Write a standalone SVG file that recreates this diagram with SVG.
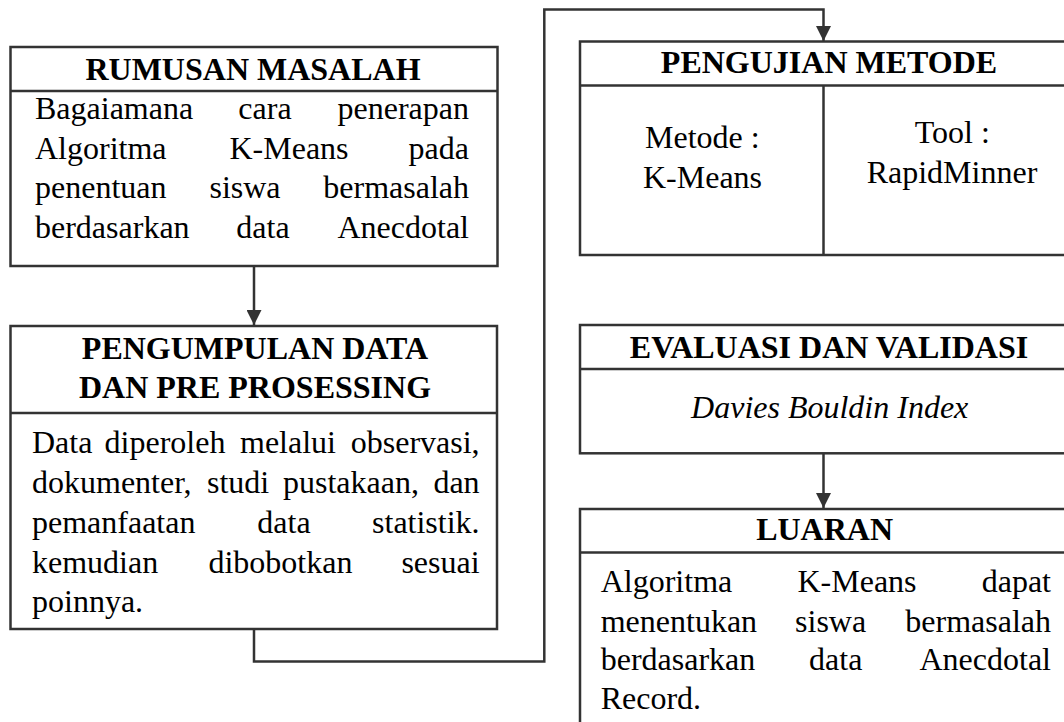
<svg xmlns="http://www.w3.org/2000/svg" width="1064" height="722" viewBox="0 0 1064 722">
<defs>
<style>
.box{fill:#fff;stroke:#333;stroke-width:2.5}
.ln{fill:none;stroke:#333;stroke-width:2.5}
.h{font-family:"Liberation Serif","Times New Roman",serif;font-weight:bold;font-size:32px;fill:#000;text-anchor:middle}
.t{font-family:"Liberation Serif","Times New Roman",serif;font-size:32px;fill:#000}
.m{text-anchor:middle}
.e{text-anchor:end}
.i{font-style:italic}
</style>
<marker id="arr" viewBox="0 0 15 15" refX="15" refY="7.5" markerWidth="15" markerHeight="15" markerUnits="userSpaceOnUse" orient="auto">
<path d="M0,0 L15,7.5 L0,15 z" fill="#333"/>
</marker>
</defs>
<rect width="1064" height="722" fill="#fff"/>

<g id="connectors">
<path class="ln" d="M254,266 L254,325" marker-end="url(#arr)"/>
<path class="ln" d="M254,629 L254,661.5 L544.3,661.5 L544.3,9.5 L823.5,9.5 L823.5,41" marker-end="url(#arr)"/>
<path class="ln" d="M823.5,453.3 L823.5,508" marker-end="url(#arr)"/>
</g>

<g id="rumusan">
<rect class="box" x="10.5" y="47" width="487" height="219"/>
<line class="ln" x1="10.5" y1="91" x2="497.5" y2="91"/>
<text class="h" x="253" y="80">RUMUSAN MASALAH</text>
<text class="t" x="35" y="119.3">Bagaiamana</text>
<text class="t m" x="265" y="119.3">cara</text>
<text class="t e" x="469" y="119.3">penerapan</text>
<text class="t" x="35" y="158.5">Algoritma</text>
<text class="t m" x="289" y="158.5">K-Means</text>
<text class="t e" x="469" y="158.5">pada</text>
<text class="t" x="35" y="198">penentuan</text>
<text class="t m" x="245" y="198">siswa</text>
<text class="t e" x="469" y="198">bermasalah</text>
<text class="t" x="35" y="238">berdasarkan</text>
<text class="t m" x="263" y="238">data</text>
<text class="t e" x="469" y="238">Anecdotal</text>
</g>

<g id="pengumpulan">
<rect class="box" x="10.5" y="326" width="486.5" height="303"/>
<line class="ln" x1="10.5" y1="413" x2="497" y2="413"/>
<text class="h" x="255" y="359.3">PENGUMPULAN DATA</text>
<text class="h" x="255" y="398.3">DAN PRE PROSESSING</text>
<text class="t" x="32" y="452.7">Data</text>
<text class="t" x="104.6" y="452.7">diperoleh</text>
<text class="t" x="240" y="452.7">melalui</text>
<text class="t e" x="479.6" y="452.7">observasi,</text>
<text class="t" x="32" y="493">dokumenter,</text>
<text class="t" x="207" y="493">studi</text>
<text class="t" x="283" y="493">pustakaan,</text>
<text class="t e" x="479.6" y="493">dan</text>
<text class="t" x="32" y="533">pemanfaatan</text>
<text class="t m" x="284" y="533">data</text>
<text class="t e" x="479.6" y="533">statistik.</text>
<text class="t" x="32" y="572.5">kemudian</text>
<text class="t m" x="280.4" y="572.5">dibobotkan</text>
<text class="t e" x="479.6" y="572.5">sesuai</text>
<text class="t" x="32" y="612.3">poinnya.</text>
</g>

<g id="pengujian">
<rect class="box" x="580" y="41.5" width="500" height="213.5"/>
<line class="ln" x1="580" y1="85.5" x2="1080" y2="85.5"/>
<line class="ln" x1="823.5" y1="85.5" x2="823.5" y2="255"/>
<text class="h" x="829" y="73.3">PENGUJIAN METODE</text>
<text class="t m" x="702.3" y="148.3">Metode :</text>
<text class="t m" x="702.5" y="188.3">K-Means</text>
<text class="t m" x="952.3" y="142.5">Tool :</text>
<text class="t m" x="952" y="183">RapidMinner</text>
</g>

<g id="evaluasi">
<rect class="box" x="580" y="325" width="500" height="128.3"/>
<line class="ln" x1="580" y1="369" x2="1080" y2="369"/>
<text class="h" x="829" y="358.3">EVALUASI DAN VALIDASI</text>
<text class="t m i" x="829.7" y="418.3">Davies Bouldin Index</text>
</g>

<g id="luaran">
<rect class="box" x="580" y="509" width="500" height="240"/>
<line class="ln" x1="580" y1="552.5" x2="1080" y2="552.5"/>
<text class="h" x="824.6" y="540">LUARAN</text>
<text class="t" x="600.7" y="592.3">Algoritma</text>
<text class="t m" x="857" y="592.3">K-Means</text>
<text class="t e" x="1051" y="592.3">dapat</text>
<text class="t" x="600.7" y="631.7">menentukan</text>
<text class="t m" x="830.6" y="631.7">siswa</text>
<text class="t e" x="1051" y="631.7">bermasalah</text>
<text class="t" x="600.7" y="670">berdasarkan</text>
<text class="t m" x="835.7" y="670">data</text>
<text class="t e" x="1051" y="670">Anecdotal</text>
<text class="t" x="600.7" y="709.3">Record.</text>
</g>
</svg>
